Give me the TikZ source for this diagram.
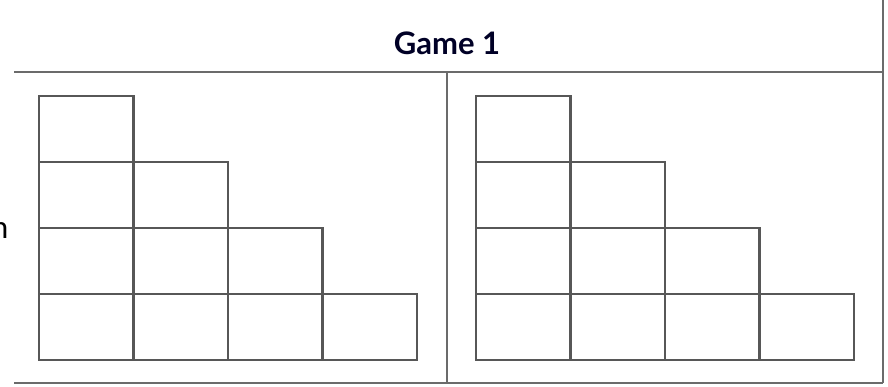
\documentclass[tikz,border=0pt]{standalone}
\usepackage{fontspec}
\setmainfont{Lato}
\begin{document}
\begin{tikzpicture}[x=1pt,y=-1pt,
  frame/.style={draw=black!58,line width=2.8pt},
  cell/.style={draw=black!66,line width=2.4pt},
  title/.style={font=\fontsize{31}{34}\selectfont\bfseries,text=black!85!blue},
  side/.style={font=\fontsize{31}{34}\selectfont,text=black}]
\useasboundingbox[fill=white] (0,0) rectangle (888,387);
% frame
\coordinate (tl) at (14,72);
\coordinate (tr) at (883,72);
\coordinate (rt) at (883,0);
\coordinate (br) at (883,383);
\coordinate (bl) at (14,383);
\coordinate (mt) at (447,72);
\coordinate (mb) at (447,383);
\draw[frame] (tl) -- (tr);
\draw[frame] (rt) -- (br);
\draw[frame] (bl) -- (br);
\draw[frame] (mt) -- (mb);
\node[title] (t) at (447,43) {Game 1};
\node[side,anchor=base east,inner sep=0pt] (n) at (8.5,239) {n};
% staircases
\foreach \ox in {39,476}{
  \foreach \r in {0,...,3}{
    \foreach \c in {0,...,\r}{
      \draw[cell] ({\ox+\c*94.5},{96+\r*66}) rectangle ++(94.5,66);
    }
  }
}
\end{tikzpicture}
\end{document}
